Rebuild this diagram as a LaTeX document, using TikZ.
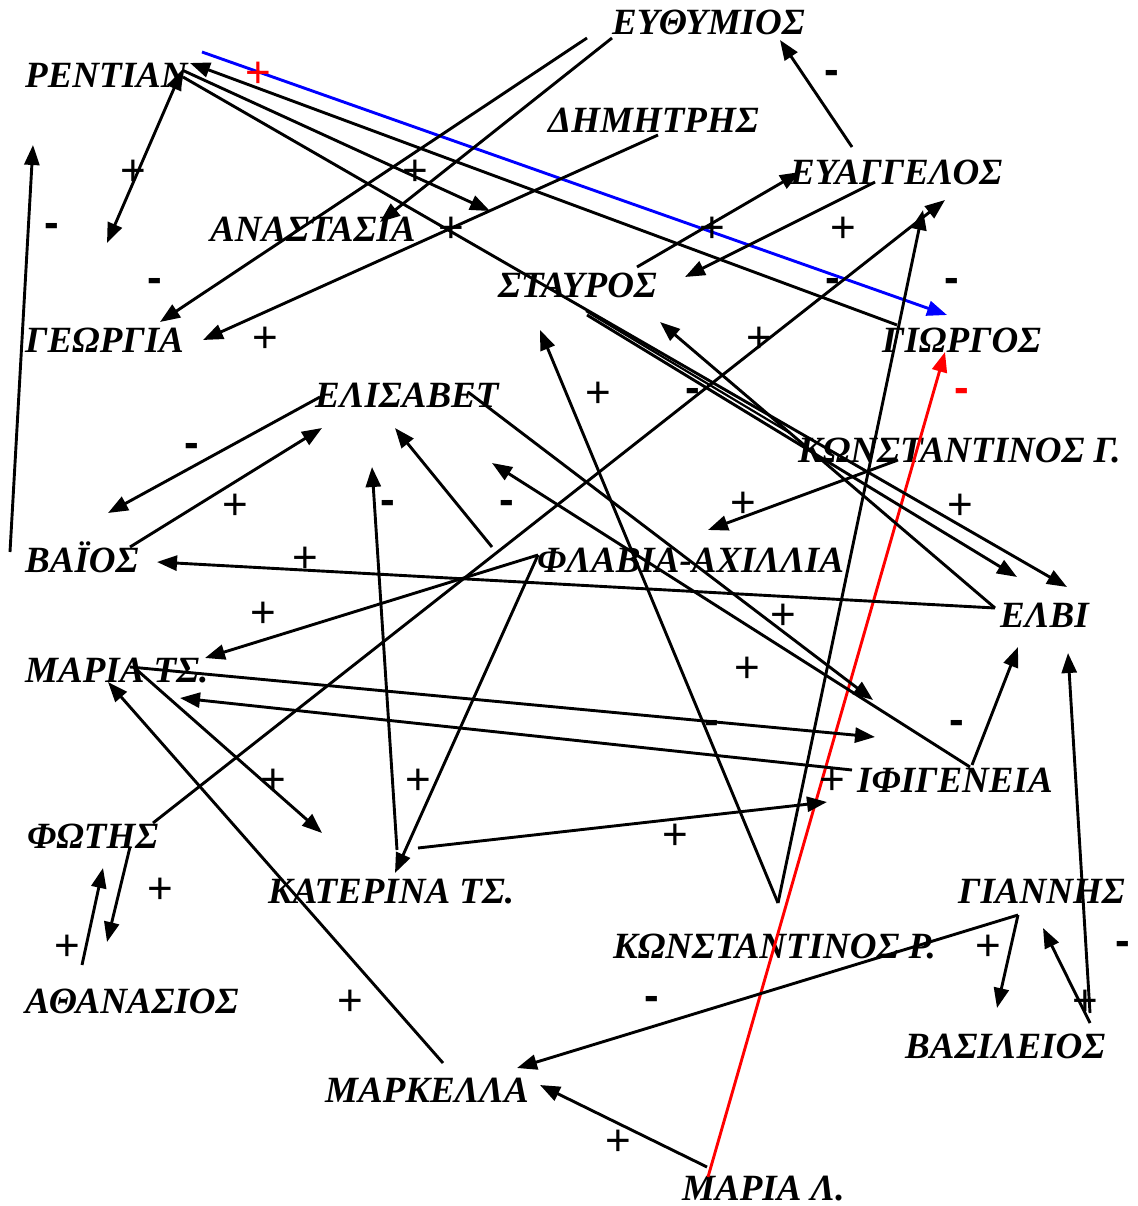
\documentclass[tikz,border=0pt]{standalone}
\usepackage{fontspec}
\setmainfont{Liberation Serif}
\newfontfamily\signfont{Liberation Sans}
\usetikzlibrary{arrows.meta}
\tikzset{
  nm/.style={anchor=base west,inner sep=0pt,font=\bfseries\itshape\fontsize{37}{40}\selectfont},
  conn/.style={line width=2.9pt,-{Triangle[length=20pt,width=15pt]}},
  biconn/.style={line width=2.9pt,{Triangle[length=20pt,width=15pt]}-{Triangle[length=20pt,width=15pt]}},
  plain/.style={line width=2.2pt},
  plus/.style={inner sep=0pt,font=\signfont\fontsize{44}{48}\selectfont},
  minus/.style={inner sep=0pt,font=\signfont\bfseries\fontsize{44}{48}\selectfont},
}
\begin{document}
\begin{tikzpicture}[x=1pt,y=-1pt]
\useasboundingbox[fill=white] (0,0) rectangle (1137,1206);
% names
\node[nm] (euth) at (612,35) {ΕΥΘΥΜΙΟΣ};
\node[nm] (rent) at (25,88) {ΡΕΝΤΙΑΝ};
\node[nm] (dim) at (548,133) {ΔΗΜΗΤΡΗΣ};
\node[nm] (evag) at (790,185) {ΕΥΑΓΓΕΛΟΣ};
\node[nm] (anas) at (210,242) {ΑΝΑΣΤΑΣΙΑ};
\node[nm] (stav) at (498,297) {ΣΤΑΥΡΟΣ};
\node[nm] (geor) at (25,352) {ΓΕΩΡΓΙΑ};
\node[nm] (gior) at (882,352) {ΓΙΩΡΓΟΣ};
\node[nm] (elis) at (315,407) {ΕΛΙΣΑΒΕΤ};
\node[nm] (konG) at (798,462) {ΚΩΝΣΤΑΝΤΙΝΟΣ Γ.};
\node[nm] (vaios) at (25,572) {ΒΑΪΟΣ};
\node[nm] (flav) at (537,572) {ΦΛΑΒΙΑ-ΑΧΙΛΛΙΑ};
\node[nm] (elvi) at (1000,627) {ΕΛΒΙ};
\node[nm] (mariaT) at (25,682) {ΜΑΡΙΑ ΤΣ.};
\node[nm] (ifig) at (857,792) {ΙΦΙΓΕΝΕΙΑ};
\node[nm] (fotis) at (27,848) {ΦΩΤΗΣ};
\node[nm] (kater) at (268,903) {ΚΑΤΕΡΙΝΑ ΤΣ.};
\node[nm] (giannis) at (958,903) {ΓΙΑΝΝΗΣ};
\node[nm] (konR) at (613,958) {ΚΩΝΣΤΑΝΤΙΝΟΣ Ρ.};
\node[nm] (athan) at (25,1013) {ΑΘΑΝΑΣΙΟΣ};
\node[nm] (vasil) at (905,1058) {ΒΑΣΙΛΕΙΟΣ};
\node[nm] (mark) at (325,1102) {ΜΑΡΚΕΛΛΑ};
\node[nm] (mariaL) at (682,1200) {ΜΑΡΙΑ Λ.};
% endpoints
\coordinate (b1) at (202,52); \coordinate (b2) at (947,315);
\coordinate (r1) at (708,1177); \coordinate (r2) at (945,352);
\coordinate (c3a) at (182,70); \coordinate (c3b) at (107,243);
\coordinate (c4a) at (897,325); \coordinate (c4b) at (190,63);
\coordinate (c5a) at (182,70); \coordinate (c5b) at (490,211);
\coordinate (c6a) at (183,77); \coordinate (c6b) at (1067,587);
\coordinate (c7a) at (587,315); \coordinate (c7b) at (1017,577);
\coordinate (c7c) at (586,311); \coordinate (c7d) at (790,433);
\coordinate (c8a) at (587,38); \coordinate (c8b) at (160,322);
\coordinate (c9a) at (612,38); \coordinate (c9b) at (380,222);
\coordinate (c10a) at (658,135); \coordinate (c10b) at (203,340);
\coordinate (c11a) at (852,147); \coordinate (c11b) at (780,40);
\coordinate (c12a) at (637,267); \coordinate (c12b) at (800,172);
\coordinate (c13a) at (875,182); \coordinate (c13b) at (685,277);
\coordinate (c14a) at (153,823); \coordinate (c14b) at (945,200);
\coordinate (vR) at (778,903);
\coordinate (c15b) at (923,210); \coordinate (c16b) at (540,330);
\coordinate (c17a) at (320,397); \coordinate (c17b) at (108,513);
\coordinate (c18a) at (130,547); \coordinate (c18b) at (322,428);
\coordinate (c19a) at (492,547); \coordinate (c19b) at (395,428);
\coordinate (c20a) at (397,850); \coordinate (c20b) at (372,467);
\coordinate (c21a) at (468,392); \coordinate (c21b) at (873,700);
\coordinate (c22a) at (970,767); \coordinate (c22b) at (492,463);
\coordinate (vF) at (538,555);
\coordinate (c23b) at (205,658); \coordinate (c24b) at (395,873);
\coordinate (c25a) at (898,460); \coordinate (c25b) at (708,530);
\coordinate (c26a) at (130,667); \coordinate (c26b) at (875,737);
\coordinate (c27a) at (852,770); \coordinate (c27b) at (180,698);
\coordinate (c28a) at (137,670); \coordinate (c28b) at (322,833);
\coordinate (c29a) at (443,1063); \coordinate (c29b) at (108,682);
\coordinate (c30a) at (418,848); \coordinate (c30b) at (827,802);
\coordinate (c31a) at (10,552); \coordinate (c31b) at (33,145);
\coordinate (c32a) at (82,965); \coordinate (c32b) at (103,868);
\coordinate (c33a) at (130,847); \coordinate (c33b) at (107,942);
\coordinate (c34a) at (972,765); \coordinate (c34b) at (1018,647);
\coordinate (vG) at (1018,915);
\coordinate (c35b) at (517,1068); \coordinate (c36b) at (997,1008);
\coordinate (c37a) at (1090,1023); \coordinate (c37b) at (1043,928);
\coordinate (c38a) at (1090,1013); \coordinate (c38b) at (1068,653);
\coordinate (c39a) at (707,1167); \coordinate (c39b) at (540,1085);
\coordinate (vE) at (995,608);
\coordinate (c40b) at (157,562); \coordinate (c41b) at (660,322);
% connectors
\draw[conn,blue] (b1) -- (b2);
\draw[conn,red] (r1) -- (r2);
\draw[biconn] (c3a) -- (c3b);
\draw[conn] (c4a) -- (c4b);
\draw[conn] (c5a) -- (c5b);
\draw[conn] (c6a) -- (c6b);
\draw[conn] (c7a) -- (c7b);
\draw[plain] (c7c) -- (c7d);
\draw[conn] (c8a) -- (c8b);
\draw[conn] (c9a) -- (c9b);
\draw[conn] (c10a) -- (c10b);
\draw[conn] (c11a) -- (c11b);
\draw[conn] (c12a) -- (c12b);
\draw[conn] (c13a) -- (c13b);
\draw[conn] (c14a) -- (c14b);
\draw[conn] (vR) -- (c15b);
\draw[conn] (vR) -- (c16b);
\draw[conn] (c17a) -- (c17b);
\draw[conn] (c18a) -- (c18b);
\draw[conn] (c19a) -- (c19b);
\draw[conn] (c20a) -- (c20b);
\draw[conn] (c21a) -- (c21b);
\draw[conn] (c22a) -- (c22b);
\draw[conn] (vF) -- (c23b);
\draw[conn] (vF) -- (c24b);
\draw[conn] (c25a) -- (c25b);
\draw[conn] (c26a) -- (c26b);
\draw[conn] (c27a) -- (c27b);
\draw[conn] (c28a) -- (c28b);
\draw[conn] (c29a) -- (c29b);
\draw[conn] (c30a) -- (c30b);
\draw[conn] (c31a) -- (c31b);
\draw[conn] (c32a) -- (c32b);
\draw[conn] (c33a) -- (c33b);
\draw[conn] (c34a) -- (c34b);
\draw[conn] (vG) -- (c35b);
\draw[conn] (vG) -- (c36b);
\draw[conn] (c37a) -- (c37b);
\draw[conn] (c38a) -- (c38b);
\draw[conn] (c39a) -- (c39b);
\draw[conn] (vE) -- (c40b);
\draw[conn] (vE) -- (c41b);
% signs
\node[plus,red] (s1) at (258,75) {+};
\node[minus] (s2) at (832,77) {-};
\node[plus] (s3) at (133,173) {+};
\node[plus] (s4) at (415,173) {+};
\node[minus] (s5) at (52,230) {-};
\node[plus] (s6) at (451,230) {+};
\node[plus] (s7) at (712,230) {+};
\node[plus] (s8) at (843,230) {+};
\node[minus] (s9) at (155,285) {-};
\node[minus] (s10) at (833,285) {-};
\node[minus] (s11) at (952,285) {-};
\node[plus] (s12) at (265,340) {+};
\node[plus] (s13) at (759,340) {+};
\node[plus] (s14) at (598,395) {+};
\node[minus] (s15) at (693,395) {-};
\node[minus,red] (s16) at (962,395) {-};
\node[minus] (s17) at (192,450) {-};
\node[plus] (s18) at (235,507) {+};
\node[minus] (s19) at (388,507) {-};
\node[minus] (s20) at (507,507) {-};
\node[plus] (s21) at (743,505) {+};
\node[plus] (s22) at (960,507) {+};
\node[plus] (s23) at (305,560) {+};
\node[plus] (s24) at (263,615) {+};
\node[plus] (s25) at (783,617) {+};
\node[plus] (s26) at (747,670) {+};
\node[minus] (s27) at (712,727) {-};
\node[minus] (s28) at (957,727) {-};
\node[plus] (s29) at (273,782) {+};
\node[plus] (s30) at (418,782) {+};
\node[plus] (s31) at (832,782) {+};
\node[plus] (s32) at (675,837) {+};
\node[plus] (s33) at (160,891) {+};
\node[plus] (s34) at (67,948) {+};
\node[plus] (s35) at (988,948) {+};
\node[minus] (s36) at (1123,948) {-};
\node[plus] (s37) at (350,1003) {+};
\node[minus] (s38) at (652,1003) {-};
\node[plus] (s39) at (1085,1003) {+};
\node[plus] (s40) at (618,1143) {+};
\end{tikzpicture}
\end{document}
